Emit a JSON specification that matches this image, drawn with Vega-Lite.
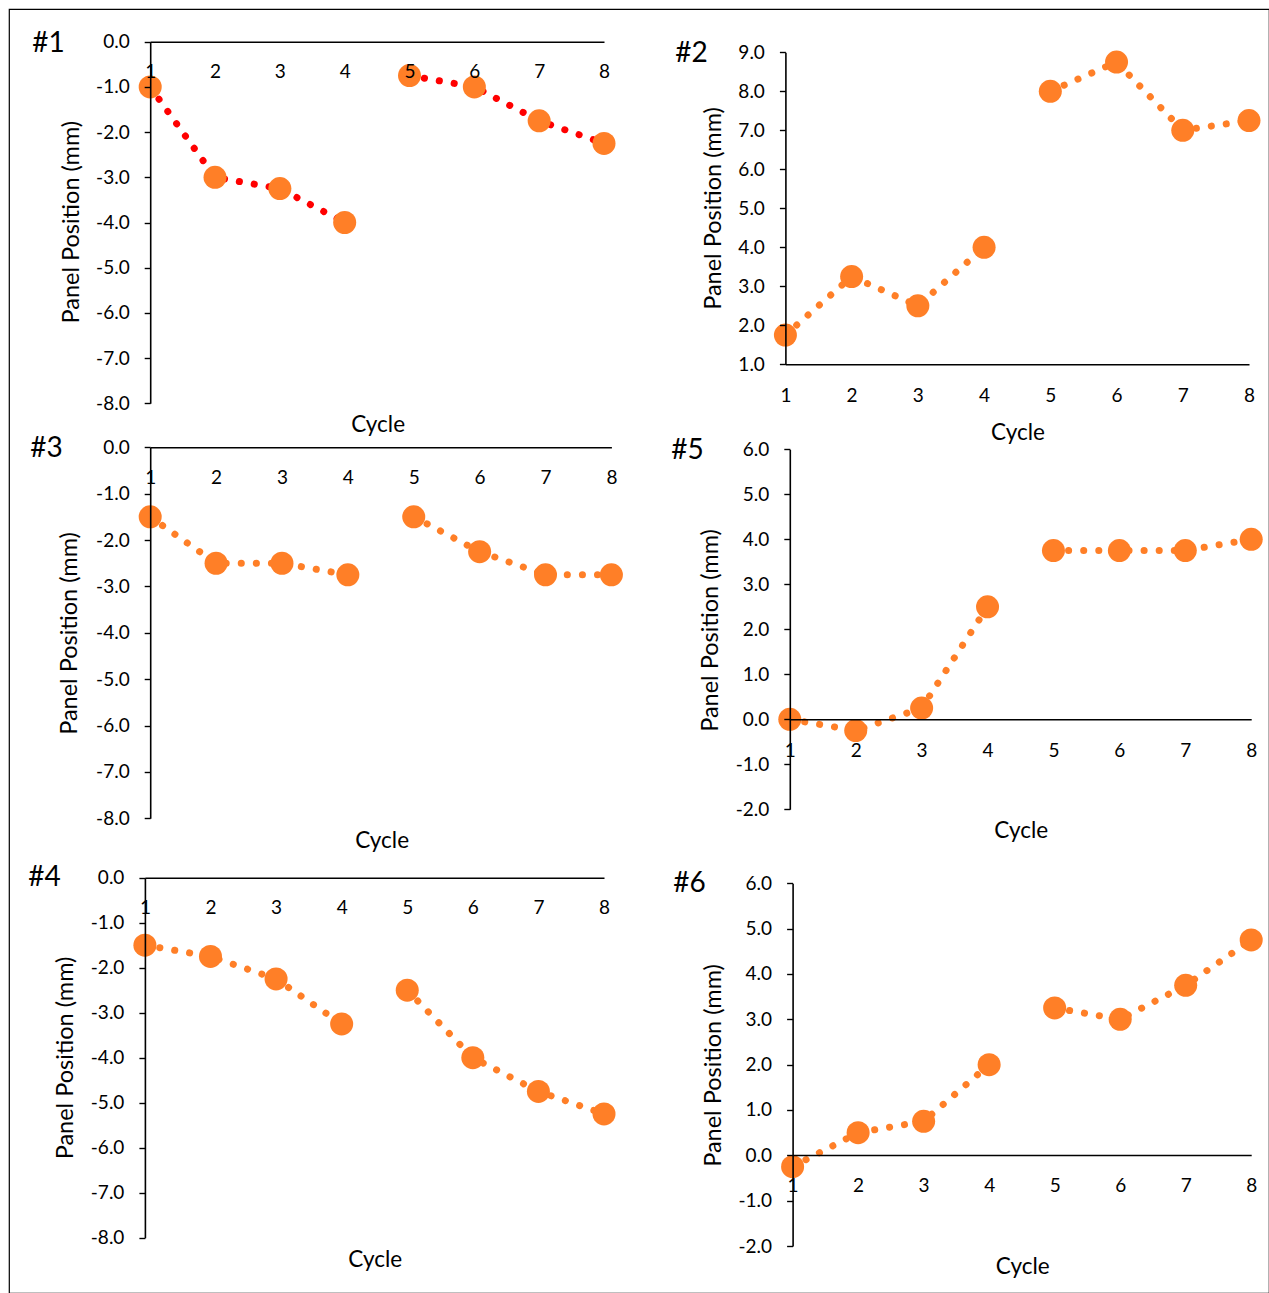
{
  "$schema": "https://vega.github.io/schema/vega-lite/v6.json",
  "width": 1260,
  "height": 1284,
  "autosize": "none",
  "padding": {"left": 9, "top": 9, "right": 0, "bottom": 0},
  "background": "white",
  "config": {
    "font": "Lato",
    "view": {"stroke": "black", "strokeWidth": 1.2},
    "axis": {
      "domainColor": "black", "domainWidth": 1.6, "tickColor": "black", "tickWidth": 1.4,
      "labelColor": "black", "titleColor": "black", "labelFont": "Lato", "titleFont": "Lato",
      "labelFontSize": 19, "titleFontSize": 23.5, "titleFontWeight": "normal", "grid": false, "zindex": 1,
      "titleAlign": "center", "titleBaseline": "middle", "labelFlush": false, "labelOverlap": false
    },
    "axisX": {"titleFontSize": 22.5}
  },
  "layer": [
    {
      "data": {"values": [
        {"cycle": 1, "pos": -1.0, "seg": "a"}, {"cycle": 2, "pos": -3.0, "seg": "a"}, {"cycle": 3, "pos": -3.25, "seg": "a"}, {"cycle": 4, "pos": -4.0, "seg": "a"},
        {"cycle": 5, "pos": -0.75, "seg": "b"}, {"cycle": 6, "pos": -1.0, "seg": "b"}, {"cycle": 7, "pos": -1.75, "seg": "b"}, {"cycle": 8, "pos": -2.25, "seg": "b"}
      ]},
      "layer": [
        {
          "mark": {"type": "line", "color": "#FF0000", "strokeWidth": 7, "strokeDash": [0.1, 15], "strokeCap": "round"},
          "encoding": {
            "x": {"field": "cycle", "type": "quantitative", "scale": {"domain": [1, 8], "range": [141.2, 595], "nice": false, "zero": false},
              "axis": {"zindex": 1, "orient": "bottom", "offset": -1251.3, "values": [1,2,3,4,5,6,7,8], "ticks": false, "tickSize": 0, "labelPadding": 30, "labelBaseline": "middle", "title": "Cycle", "titleX": 368.6, "titleY": 382.3}},
            "y": {"field": "pos", "type": "quantitative", "scale": {"domain": [-8, 0], "range": [394.3, 32.7], "nice": false, "zero": false},
              "axis": {"zindex": 1, "orient": "left", "offset": -141.2, "values": [-8,-7,-6,-5,-4,-3,-2,-1,0], "tickSize": 6, "labelPadding": 15, "labelExpr": "replace(format(datum.value, '.1f'), '\u2212', '-')", "title": "Panel Position (mm)", "titleAngle": -90, "titleX": -78.8, "titleY": 212.7}},
            "detail": {"field": "seg"}
          }
        },
        {
          "mark": {"type": "circle", "size": 530, "color": "#FF7F27", "opacity": 1},
          "encoding": {
            "x": {"field": "cycle", "type": "quantitative", "scale": {"domain": [1, 8], "range": [141.2, 595], "nice": false, "zero": false},
              "axis": {"zindex": 1, "orient": "bottom", "offset": -1251.3, "values": [1,2,3,4,5,6,7,8], "ticks": false, "tickSize": 0, "labelPadding": 30, "labelBaseline": "middle", "title": "Cycle", "titleX": 368.6, "titleY": 382.3}},
            "y": {"field": "pos", "type": "quantitative", "scale": {"domain": [-8, 0], "range": [394.3, 32.7], "nice": false, "zero": false},
              "axis": {"zindex": 1, "orient": "left", "offset": -141.2, "domain": false, "ticks": false, "labels": false, "title": "#1", "titleFontSize": 28, "titleAngle": 0, "titleX": -102.2, "titleY": 34}}
          }
        }
      ],
      "resolve": {"axis": {"y": "independent"}}
    },
    {
      "data": {"values": [
        {"cycle": 1, "pos": 1.75, "seg": "a"}, {"cycle": 2, "pos": 3.25, "seg": "a"}, {"cycle": 3, "pos": 2.5, "seg": "a"}, {"cycle": 4, "pos": 4.0, "seg": "a"},
        {"cycle": 5, "pos": 8.0, "seg": "b"}, {"cycle": 6, "pos": 8.75, "seg": "b"}, {"cycle": 7, "pos": 7.0, "seg": "b"}, {"cycle": 8, "pos": 7.25, "seg": "b"}
      ]},
      "layer": [
        {
          "mark": {"type": "line", "color": "#FF7F27", "strokeWidth": 7, "strokeDash": [0.1, 15], "strokeCap": "round"},
          "encoding": {
            "x": {"field": "cycle", "type": "quantitative", "scale": {"domain": [1, 8], "range": [776.4, 1240], "nice": false, "zero": false},
              "axis": {"zindex": 1, "orient": "bottom", "offset": -928.7, "values": [1,2,3,4,5,6,7,8], "ticks": false, "tickSize": 0, "labelPadding": 30.7, "labelBaseline": "middle", "title": "Cycle", "titleX": 1008.5, "titleY": 67.7}},
            "y": {"field": "pos", "type": "quantitative", "scale": {"domain": [1, 9], "range": [355.3, 43.3], "nice": false, "zero": false},
              "axis": {"zindex": 1, "orient": "left", "offset": -776.4, "values": [1,2,3,4,5,6,7,8,9], "tickSize": 6, "labelPadding": 15, "labelExpr": "replace(format(datum.value, '.1f'), '\u2212', '-')", "title": "Panel Position (mm)", "titleAngle": -90, "titleX": -71.9, "titleY": 199}},
            "detail": {"field": "seg"}
          }
        },
        {
          "mark": {"type": "circle", "size": 530, "color": "#FF7F27", "opacity": 1},
          "encoding": {
            "x": {"field": "cycle", "type": "quantitative", "scale": {"domain": [1, 8], "range": [776.4, 1240], "nice": false, "zero": false},
              "axis": {"zindex": 1, "orient": "bottom", "offset": -928.7, "values": [1,2,3,4,5,6,7,8], "ticks": false, "tickSize": 0, "labelPadding": 30.7, "labelBaseline": "middle", "title": "Cycle", "titleX": 1008.5, "titleY": 67.7}},
            "y": {"field": "pos", "type": "quantitative", "scale": {"domain": [1, 9], "range": [355.3, 43.3], "nice": false, "zero": false},
              "axis": {"zindex": 1, "orient": "left", "offset": -776.4, "domain": false, "ticks": false, "labels": false, "title": "#2", "titleFontSize": 28, "titleAngle": 0, "titleX": -94.4, "titleY": 44}}
          }
        }
      ],
      "resolve": {"axis": {"y": "independent"}}
    },
    {
      "data": {"values": [
        {"cycle": 1, "pos": -1.5, "seg": "a"}, {"cycle": 2, "pos": -2.5, "seg": "a"}, {"cycle": 3, "pos": -2.5, "seg": "a"}, {"cycle": 4, "pos": -2.75, "seg": "a"},
        {"cycle": 5, "pos": -1.5, "seg": "b"}, {"cycle": 6, "pos": -2.25, "seg": "b"}, {"cycle": 7, "pos": -2.75, "seg": "b"}, {"cycle": 8, "pos": -2.75, "seg": "b"}
      ]},
      "layer": [
        {
          "mark": {"type": "line", "color": "#FF7F27", "strokeWidth": 7, "strokeDash": [0.1, 15], "strokeCap": "round"},
          "encoding": {
            "x": {"field": "cycle", "type": "quantitative", "scale": {"domain": [1, 8], "range": [141.2, 602.4], "nice": false, "zero": false},
              "axis": {"zindex": 1, "orient": "bottom", "offset": -845.7, "values": [1,2,3,4,5,6,7,8], "ticks": false, "tickSize": 0, "labelPadding": 30.4, "labelBaseline": "middle", "title": "Cycle", "titleX": 372.6, "titleY": 392.7}},
            "y": {"field": "pos", "type": "quantitative", "scale": {"domain": [-8, 0], "range": [809.3, 438.3], "nice": false, "zero": false},
              "axis": {"zindex": 1, "orient": "left", "offset": -141.2, "values": [-8,-7,-6,-5,-4,-3,-2,-1,0], "tickSize": 6, "labelPadding": 15, "labelExpr": "replace(format(datum.value, '.1f'), '\u2212', '-')", "title": "Panel Position (mm)", "titleAngle": -90, "titleX": -80.8, "titleY": 624}},
            "detail": {"field": "seg"}
          }
        },
        {
          "mark": {"type": "circle", "size": 530, "color": "#FF7F27", "opacity": 1},
          "encoding": {
            "x": {"field": "cycle", "type": "quantitative", "scale": {"domain": [1, 8], "range": [141.2, 602.4], "nice": false, "zero": false},
              "axis": {"zindex": 1, "orient": "bottom", "offset": -845.7, "values": [1,2,3,4,5,6,7,8], "ticks": false, "tickSize": 0, "labelPadding": 30.4, "labelBaseline": "middle", "title": "Cycle", "titleX": 372.6, "titleY": 392.7}},
            "y": {"field": "pos", "type": "quantitative", "scale": {"domain": [-8, 0], "range": [809.3, 438.3], "nice": false, "zero": false},
              "axis": {"zindex": 1, "orient": "left", "offset": -141.2, "domain": false, "ticks": false, "labels": false, "title": "#3", "titleFontSize": 28, "titleAngle": 0, "titleX": -104.2, "titleY": 439}}
          }
        }
      ],
      "resolve": {"axis": {"y": "independent"}}
    },
    {
      "data": {"values": [
        {"cycle": 1, "pos": 0.0, "seg": "a"}, {"cycle": 2, "pos": -0.25, "seg": "a"}, {"cycle": 3, "pos": 0.25, "seg": "a"}, {"cycle": 4, "pos": 2.5, "seg": "a"},
        {"cycle": 5, "pos": 3.75, "seg": "b"}, {"cycle": 6, "pos": 3.75, "seg": "b"}, {"cycle": 7, "pos": 3.75, "seg": "b"}, {"cycle": 8, "pos": 4.0, "seg": "b"}
      ]},
      "layer": [
        {
          "mark": {"type": "line", "color": "#FF7F27", "strokeWidth": 7, "strokeDash": [0.1, 15], "strokeCap": "round"},
          "encoding": {
            "x": {"field": "cycle", "type": "quantitative", "scale": {"domain": [1, 8], "range": [780.8, 1242.2], "nice": false, "zero": false},
              "axis": {"zindex": 1, "orient": "bottom", "offset": -573.7, "values": [1,2,3,4,5,6,7,8], "ticks": false, "tickSize": 0, "labelPadding": 30.7, "labelBaseline": "middle", "title": "Cycle", "titleX": 1011.7, "titleY": 111.4}},
            "y": {"field": "pos", "type": "quantitative", "scale": {"domain": [-2, 6], "range": [800.3, 440.3], "nice": false, "zero": false},
              "axis": {"zindex": 1, "orient": "left", "offset": -780.8, "values": [-2,-1,0,1,2,3,4,5,6], "tickSize": 6, "labelPadding": 15, "labelExpr": "replace(format(datum.value, '.1f'), '\u2212', '-')", "title": "Panel Position (mm)", "titleAngle": -90, "titleX": -79.8, "titleY": 621}},
            "detail": {"field": "seg"}
          }
        },
        {
          "mark": {"type": "circle", "size": 530, "color": "#FF7F27", "opacity": 1},
          "encoding": {
            "x": {"field": "cycle", "type": "quantitative", "scale": {"domain": [1, 8], "range": [780.8, 1242.2], "nice": false, "zero": false},
              "axis": {"zindex": 1, "orient": "bottom", "offset": -573.7, "values": [1,2,3,4,5,6,7,8], "ticks": false, "tickSize": 0, "labelPadding": 30.7, "labelBaseline": "middle", "title": "Cycle", "titleX": 1011.7, "titleY": 111.4}},
            "y": {"field": "pos", "type": "quantitative", "scale": {"domain": [-2, 6], "range": [800.3, 440.3], "nice": false, "zero": false},
              "axis": {"zindex": 1, "orient": "left", "offset": -780.8, "domain": false, "ticks": false, "labels": false, "title": "#5", "titleFontSize": 28, "titleAngle": 0, "titleX": -102.8, "titleY": 441}}
          }
        }
      ],
      "resolve": {"axis": {"y": "independent"}}
    },
    {
      "data": {"values": [
        {"cycle": 1, "pos": -1.5, "seg": "a"}, {"cycle": 2, "pos": -1.75, "seg": "a"}, {"cycle": 3, "pos": -2.25, "seg": "a"}, {"cycle": 4, "pos": -3.25, "seg": "a"},
        {"cycle": 5, "pos": -2.5, "seg": "b"}, {"cycle": 6, "pos": -4.0, "seg": "b"}, {"cycle": 7, "pos": -4.75, "seg": "b"}, {"cycle": 8, "pos": -5.25, "seg": "b"}
      ]},
      "layer": [
        {
          "mark": {"type": "line", "color": "#FF7F27", "strokeWidth": 7, "strokeDash": [0.1, 15], "strokeCap": "round"},
          "encoding": {
            "x": {"field": "cycle", "type": "quantitative", "scale": {"domain": [1, 8], "range": [135.9, 595], "nice": false, "zero": false},
              "axis": {"zindex": 1, "orient": "bottom", "offset": -415.3, "values": [1,2,3,4,5,6,7,8], "ticks": false, "tickSize": 0, "labelPadding": 30, "labelBaseline": "middle", "title": "Cycle", "titleX": 365.7, "titleY": 381.6}},
            "y": {"field": "pos", "type": "quantitative", "scale": {"domain": [-8, 0], "range": [1228.7, 868.7], "nice": false, "zero": false},
              "axis": {"zindex": 1, "orient": "left", "offset": -135.9, "values": [-8,-7,-6,-5,-4,-3,-2,-1,0], "tickSize": 6, "labelPadding": 15, "labelExpr": "replace(format(datum.value, '.1f'), '\u2212', '-')", "title": "Panel Position (mm)", "titleAngle": -90, "titleX": -79.6, "titleY": 1048.5}},
            "detail": {"field": "seg"}
          }
        },
        {
          "mark": {"type": "circle", "size": 530, "color": "#FF7F27", "opacity": 1},
          "encoding": {
            "x": {"field": "cycle", "type": "quantitative", "scale": {"domain": [1, 8], "range": [135.9, 595], "nice": false, "zero": false},
              "axis": {"zindex": 1, "orient": "bottom", "offset": -415.3, "values": [1,2,3,4,5,6,7,8], "ticks": false, "tickSize": 0, "labelPadding": 30, "labelBaseline": "middle", "title": "Cycle", "titleX": 365.7, "titleY": 381.6}},
            "y": {"field": "pos", "type": "quantitative", "scale": {"domain": [-8, 0], "range": [1228.7, 868.7], "nice": false, "zero": false},
              "axis": {"zindex": 1, "orient": "left", "offset": -135.9, "domain": false, "ticks": false, "labels": false, "title": "#4", "titleFontSize": 28, "titleAngle": 0, "titleX": -100.9, "titleY": 868}}
          }
        }
      ],
      "resolve": {"axis": {"y": "independent"}}
    },
    {
      "data": {"values": [
        {"cycle": 1, "pos": -0.25, "seg": "a"}, {"cycle": 2, "pos": 0.5, "seg": "a"}, {"cycle": 3, "pos": 0.75, "seg": "a"}, {"cycle": 4, "pos": 2.0, "seg": "a"},
        {"cycle": 5, "pos": 3.25, "seg": "b"}, {"cycle": 6, "pos": 3.0, "seg": "b"}, {"cycle": 7, "pos": 3.75, "seg": "b"}, {"cycle": 8, "pos": 4.75, "seg": "b"}
      ]},
      "layer": [
        {
          "mark": {"type": "line", "color": "#FF7F27", "strokeWidth": 7, "strokeDash": [0.1, 15], "strokeCap": "round"},
          "encoding": {
            "x": {"field": "cycle", "type": "quantitative", "scale": {"domain": [1, 8], "range": [783.6, 1242.2], "nice": false, "zero": false},
              "axis": {"zindex": 1, "orient": "bottom", "offset": -138, "values": [1,2,3,4,5,6,7,8], "ticks": false, "tickSize": 0, "labelPadding": 30, "labelBaseline": "middle", "title": "Cycle", "titleX": 1013.3, "titleY": 111.7}},
            "y": {"field": "pos", "type": "quantitative", "scale": {"domain": [-2, 6], "range": [1237, 874.3], "nice": false, "zero": false},
              "axis": {"zindex": 1, "orient": "left", "offset": -783.6, "values": [-2,-1,0,1,2,3,4,5,6], "tickSize": 6, "labelPadding": 15, "labelExpr": "replace(format(datum.value, '.1f'), '\u2212', '-')", "title": "Panel Position (mm)", "titleAngle": -90, "titleX": -79.1, "titleY": 1056}},
            "detail": {"field": "seg"}
          }
        },
        {
          "mark": {"type": "circle", "size": 530, "color": "#FF7F27", "opacity": 1},
          "encoding": {
            "x": {"field": "cycle", "type": "quantitative", "scale": {"domain": [1, 8], "range": [783.6, 1242.2], "nice": false, "zero": false},
              "axis": {"zindex": 1, "orient": "bottom", "offset": -138, "values": [1,2,3,4,5,6,7,8], "ticks": false, "tickSize": 0, "labelPadding": 30, "labelBaseline": "middle", "title": "Cycle", "titleX": 1013.3, "titleY": 111.7}},
            "y": {"field": "pos", "type": "quantitative", "scale": {"domain": [-2, 6], "range": [1237, 874.3], "nice": false, "zero": false},
              "axis": {"zindex": 1, "orient": "left", "offset": -783.6, "domain": false, "ticks": false, "labels": false, "title": "#6", "titleFontSize": 28, "titleAngle": 0, "titleX": -103.6, "titleY": 874}}
          }
        }
      ],
      "resolve": {"axis": {"y": "independent"}}
    }
  ],
  "resolve": {"scale": {"x": "independent", "y": "independent"}, "axis": {"x": "independent", "y": "independent"}}
}
